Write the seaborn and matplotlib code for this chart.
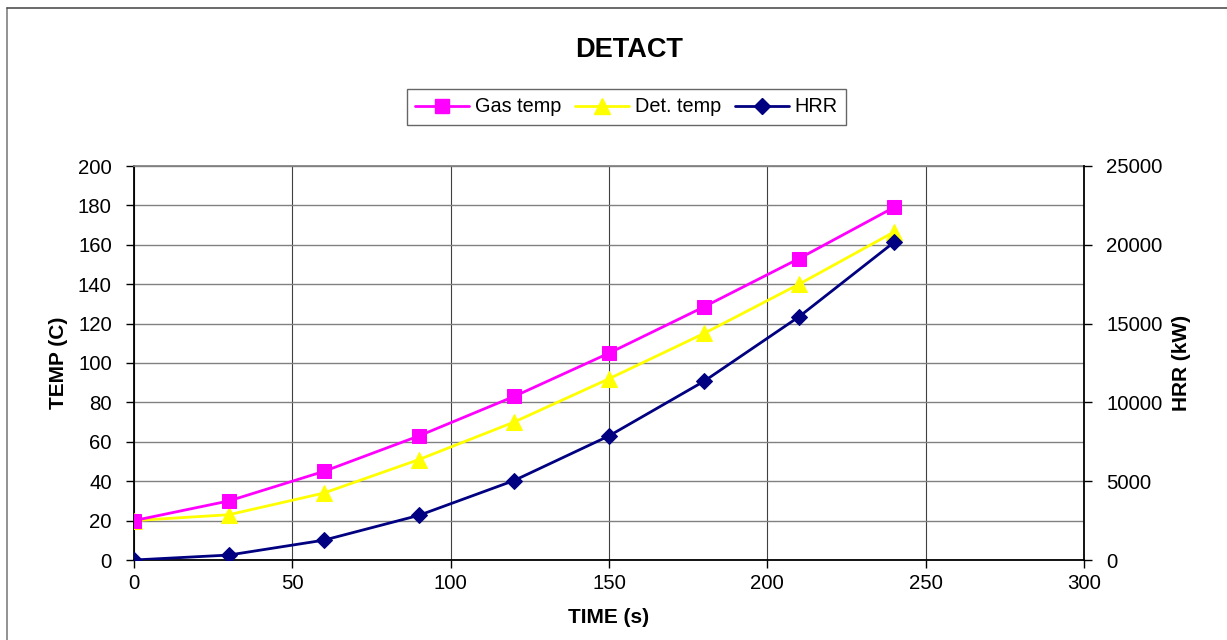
import matplotlib
matplotlib.use("Agg")
import matplotlib.pyplot as plt
import seaborn as sns
import pandas as pd
from matplotlib.lines import Line2D

time_s = [0, 30, 60, 90, 120, 150, 180, 210, 240]
gas_temp = [20, 30, 45, 63, 83, 105, 128.5, 153, 179]
det_temp = [20, 23, 34, 51, 70, 92, 115, 140, 166.5]
hrr_kw = [0, 315, 1260, 2835, 5040, 7875, 11340, 15435, 20160]

df = pd.DataFrame({"time": time_s, "gas": gas_temp, "det": det_temp, "hrr": hrr_kw})

sns.set_theme(style="white")
plt.rcParams['font.family'] = ['Liberation Sans', 'DejaVu Sans']
plt.rcParams['text.color'] = 'black'
plt.rcParams['axes.labelcolor'] = 'black'
plt.rcParams['xtick.color'] = 'black'
plt.rcParams['ytick.color'] = 'black'

fig = plt.figure(figsize=(12.27, 6.4), dpi=100)
ax = fig.add_axes([134/1227, 80/640, 950/1227, 394/640])
ax2 = ax.twinx()

lw = 2.0
sns.lineplot(data=df, x="time", y="gas", ax=ax, color="#FF00FF", marker="s",
             markersize=10.5, markeredgecolor="#FF00FF", linewidth=lw, zorder=4)
sns.lineplot(data=df, x="time", y="det", ax=ax, color="#FFFF00", marker="^",
             markersize=11.5, markeredgecolor="#FFFF00", linewidth=lw, zorder=3)
sns.lineplot(data=df, x="time", y="hrr", ax=ax2, color="#000080", marker="D",
             markersize=8.5, markeredgecolor="#000080", linewidth=lw, zorder=5)

ax.set_xlim(0, 300)
ax.set_ylim(0, 200)
ax2.set_ylim(0, 25000)
ax.set_xticks(range(0, 301, 50))
ax.set_yticks(range(0, 201, 20))
ax2.set_yticks(range(0, 25001, 5000))

ax.grid(True, axis="y", color="#808080", linewidth=1.0)
ax.grid(True, axis="x", color="#404040", linewidth=0.8)
ax.set_axisbelow(True)

for a in (ax, ax2):
    a.tick_params(labelsize=14.7, length=6, width=1, direction="out", colors="black")
ax.tick_params(axis="y", pad=10)
ax.tick_params(axis="x", pad=4)
ax2.tick_params(axis="y", right=True, pad=10)
ax.tick_params(axis="both", which="both", left=True, bottom=True)

for s in ("left", "bottom"):
    ax.spines[s].set_color("black")
    ax.spines[s].set_linewidth(1.3)
ax.spines["top"].set_color("#808080")
ax.spines["right"].set_visible(False)
for s in ("left", "bottom", "top"):
    ax2.spines[s].set_visible(False)
ax2.spines["right"].set_color("black")
ax2.spines["right"].set_linewidth(1.3)

ax.set_xlabel("TIME (s)", fontsize=15, fontweight="bold", labelpad=11)
ax.set_ylabel("TEMP (C)", fontsize=15, fontweight="bold", labelpad=7)
ax2.set_ylabel("HRR (kW)", fontsize=15, fontweight="bold", labelpad=7)

fig.text(629/1227, 1 - 50/640, "DETACT", ha="center", va="center",
         fontsize=19.5, fontweight="bold")

handles = [
    Line2D([], [], color="#FF00FF", marker="s", markersize=10, linewidth=lw),
    Line2D([], [], color="#FFFF00", marker="^", markersize=11, linewidth=lw),
    Line2D([], [], color="#000080", marker="D", markersize=8, linewidth=lw),
]
leg = fig.legend(handles, ["Gas temp", "Det. temp", "HRR"], ncol=3,
                 loc="center", bbox_to_anchor=(626.5/1227, 1 - 107/640),
                 fontsize=14.3, frameon=True, fancybox=False, handlelength=2.7,
                 handletextpad=0.3, columnspacing=0.7, borderpad=0.42)
leg.get_frame().set_edgecolor("#404040")
leg.get_frame().set_linewidth(1.0)

fig.add_artist(Line2D([6.5/1227, 6.5/1227], [0, 1 - 8/640], transform=fig.transFigure,
                      color="#808080", linewidth=1.2))
fig.add_artist(Line2D([6.5/1227, 1], [1 - 8/640, 1 - 8/640], transform=fig.transFigure,
                      color="#505050", linewidth=1.2))

fig.savefig("out.png", dpi=100)
